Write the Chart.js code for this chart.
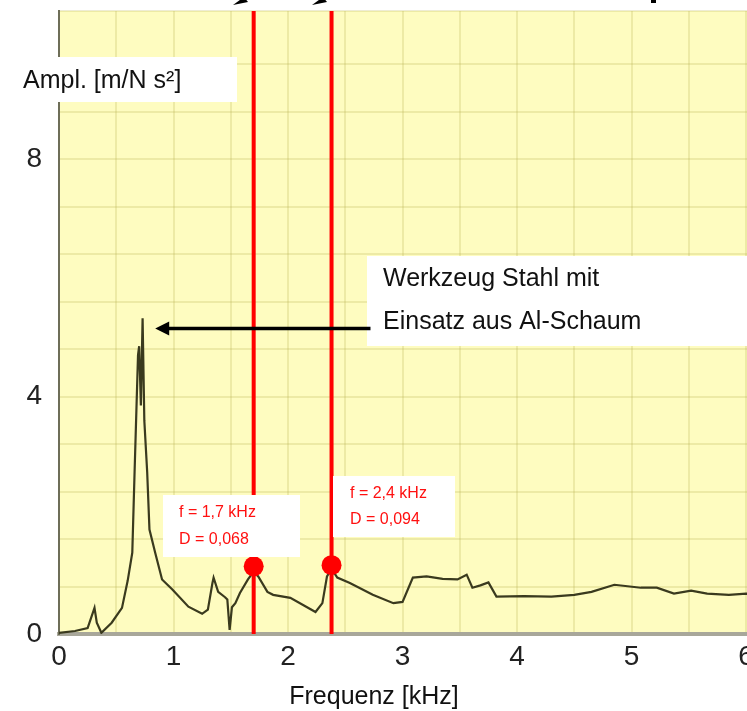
<!DOCTYPE html>
<html>
<head>
<meta charset="utf-8">
<script src="https://cdn.jsdelivr.net/npm/chart.js@4/dist/chart.umd.min.js"></script>
<style>
  html, body { margin: 0; padding: 0; background: #fff; overflow: hidden; }
  #wrap { position: relative; width: 780px; height: 711px; }
</style>
</head>
<body>
<div id="wrap"><canvas id="chart"></canvas></div>
<script>
/* ── Data ── */
const freq = [0.00, 0.14, 0.25, 0.31, 0.33, 0.37, 0.46, 0.55, 0.60, 0.64, 0.66, 0.69, 0.70, 0.715, 0.73, 0.745, 0.77, 0.79,
              0.84, 0.90, 0.99, 1.13, 1.25, 1.30, 1.34, 1.35, 1.39, 1.45, 1.47, 1.49, 1.51, 1.54, 1.58, 1.65, 1.70, 1.74,
              1.82, 1.87, 2.02, 2.24, 2.30, 2.34, 2.38, 2.43, 2.54, 2.74, 2.92, 3.00, 3.09, 3.21, 3.35, 3.48, 3.56, 3.61,
              3.68, 3.75, 3.82, 4.06, 4.30, 4.50, 4.65, 4.85, 5.08, 5.22, 5.37, 5.52, 5.66, 5.85, 6.00, 6.20];
const ampl = [0.02, 0.05, 0.10, 0.44, 0.19, 0.02, 0.19, 0.44, 0.90, 1.37, 2.73, 4.70, 4.85, 3.85, 5.32, 3.60, 2.73, 1.76,
              1.37, 0.92, 0.75, 0.46, 0.34, 0.41, 0.86, 0.95, 0.71, 0.62, 0.58, 0.07, 0.45, 0.52, 0.69, 0.92, 1.05, 0.97,
              0.71, 0.66, 0.61, 0.37, 0.52, 0.97, 1.10, 0.95, 0.86, 0.66, 0.52, 0.54, 0.95, 0.97, 0.93, 0.92, 1.00, 0.78,
              0.82, 0.87, 0.63, 0.64, 0.63, 0.66, 0.71, 0.83, 0.78, 0.78, 0.68, 0.73, 0.68, 0.66, 0.68, 0.67];

// marked resonances (red lines + dots)
const markFreq = [1.70, 2.38];
const markAmpl = [1.14, 1.16];
const markText = [['f = 1,7 kHz', 'D = 0,068'], ['f = 2,4 kHz', 'D = 0,094']];

// axis ticks + grid steps
const xTickLabels = [0, 1, 2, 3, 4, 5, 6];
const yTickLabels = [0, 4, 8];
const xGrid = [0, 0.5, 1, 1.5, 2, 2.5, 3, 3.5, 4, 4.5, 5, 5.5, 6];
const yGrid = [0, 0.8, 1.6, 2.4, 3.2, 4, 4.8, 5.6, 6.4, 7.2, 8, 8.8, 9.6, 10.5];
const xMax = 6.2, yMax = 10.5;

const yLabel = 'Ampl. [m/N s²]';
const xLabel = 'Frequenz [kHz]';
const noteLines = ['Werkzeug Stahl mit', 'Einsatz aus Al-Schaum'];
const noteArrow = { from: [2.72, 5.15], to: [0.84, 5.15] };

const FONT = '"Liberation Sans", Arial, sans-serif';
const GRID = 'rgba(190,180,90,0.26)';

/* ── Helpers ── */
const near = (v, list) => list.some(t => Math.abs(v - t) < 1e-6);

function box(ctx, x, y, w, h) {
  ctx.fillStyle = '#ffffff';
  ctx.fillRect(x, y, w, h);
}

/* ── Plot background ── */
const plotBg = {
  id: 'plotBg',
  beforeDraw(chart) {
    const { ctx, chartArea: a } = chart;
    ctx.save();
    ctx.fillStyle = '#fefcc0';
    ctx.fillRect(a.left, a.top, a.right - a.left, a.bottom - a.top);
    ctx.restore();
  }
};

/* ── Labels, boxes, arrow ── */
const overlays = {
  id: 'overlays',
  afterDraw(chart) {
    const { ctx, scales: { x, y } } = chart;
    ctx.save();
    ctx.textBaseline = 'alphabetic';

    // y label box
    box(ctx, 0, 57, 237, 45);
    ctx.fillStyle = '#111';
    ctx.font = `25px ${FONT}`;
    ctx.fillText(yLabel, 23, 88);

    // note box
    box(ctx, 367, 256, 400, 90);
    ctx.fillStyle = '#111';
    ctx.font = `25px ${FONT}`;
    ctx.fillText(noteLines[0], 383, 286);
    ctx.fillText(noteLines[1], 383, 329);

    // damping boxes
    const boxes = [[163, 495, 137, 62, 179, 517, 544], [333, 476, 122, 61, 350, 498, 524]];
    ctx.font = `16px ${FONT}`;
    boxes.forEach((b, i) => {
      box(ctx, b[0], b[1], b[2], b[3]);
      ctx.fillStyle = '#ff1010';
      ctx.fillText(markText[i][0], b[4], b[5]);
      ctx.fillText(markText[i][1], b[4], b[6]);
    });

    // arrow to the main peak
    const x0 = x.getPixelForValue(noteArrow.from[0]);
    const x1 = x.getPixelForValue(noteArrow.to[0]);
    const yy = y.getPixelForValue(noteArrow.to[1]);
    ctx.strokeStyle = '#000';
    ctx.lineWidth = 3.5;
    ctx.beginPath();
    ctx.moveTo(x0, yy);
    ctx.lineTo(x1 + 12, yy);
    ctx.stroke();
    ctx.fillStyle = '#000';
    ctx.beginPath();
    ctx.moveTo(x1, yy);
    ctx.lineTo(x1 + 14, yy - 7);
    ctx.lineTo(x1 + 14, yy + 7);
    ctx.closePath();
    ctx.fill();

    // arrow tips cut off at the top edge
    ctx.beginPath();
    ctx.moveTo(233, 5); ctx.lineTo(244, -3); ctx.lineTo(248, 2); ctx.closePath(); ctx.fill();
    ctx.beginPath();
    ctx.moveTo(312, 5); ctx.lineTo(323, -3); ctx.lineTo(327, 2); ctx.closePath(); ctx.fill();
    ctx.fillRect(651, 0, 5, 3);

    // x axis title
    ctx.fillStyle = '#111';
    ctx.font = `25px ${FONT}`;
    ctx.textAlign = 'center';
    ctx.fillText(xLabel, 374, 704);

    ctx.restore();
  }
};

/* ── Datasets ── */
const curve = freq.map((f, i) => ({ x: f, y: ampl[i] }));
const markLines = markFreq.map(f => ({
  type: 'line',
  data: [{ x: f, y: 0 }, { x: f, y: yMax }],
  borderColor: '#ff0000', borderWidth: 4, pointRadius: 0, order: 1
}));

new Chart(document.getElementById('chart'), {
  type: 'line',
  data: {
    datasets: [
      {
        data: curve,
        borderColor: '#3a3a1e', borderWidth: 2.2, pointRadius: 0, tension: 0, order: 2
      },
      ...markLines,
      {
        type: 'scatter',
        data: markFreq.map((f, i) => ({ x: f, y: markAmpl[i] })),
        backgroundColor: '#ff0000', borderWidth: 0, pointRadius: 10, order: 0
      }
    ]
  },
  options: {
    responsive: true, maintainAspectRatio: false, animation: false,
    layout: { padding: { top: 11, right: 11, left: 0, bottom: 0 } },
    plugins: { legend: { display: false }, tooltip: { enabled: false } },
    scales: {
      x: {
        type: 'linear', min: 0, max: xMax,
        afterBuildTicks: s => { s.ticks = xGrid.map(v => ({ value: v })); },
        afterFit: s => { s.height = 77; s.paddingLeft = 0; s.paddingRight = 0; },
        grid: { color: GRID, lineWidth: 2, drawTicks: false },
        border: { color: '#a8a79a', width: 4 },
        ticks: {
          autoSkip: false, maxRotation: 0, padding: 6,
          color: '#222', font: { family: FONT, size: 28 },
          callback: v => near(v, xTickLabels) ? String(Math.round(v)) : ''
        }
      },
      y: {
        min: 0, max: yMax,
        afterBuildTicks: s => { s.ticks = yGrid.map(v => ({ value: v })); },
        afterFit: s => { s.width = 59; s.paddingTop = 0; s.paddingBottom = 0; },
        grid: { color: GRID, lineWidth: 2, drawTicks: false },
        border: { color: '#6e6e58', width: 2 },
        ticks: {
          autoSkip: false, padding: 17,
          color: '#222', font: { family: FONT, size: 28 },
          callback: v => near(v, yTickLabels) ? String(Math.round(v)) : ''
        }
      }
    }
  },
  plugins: [plotBg, overlays]
});
</script>
</body>
</html>
